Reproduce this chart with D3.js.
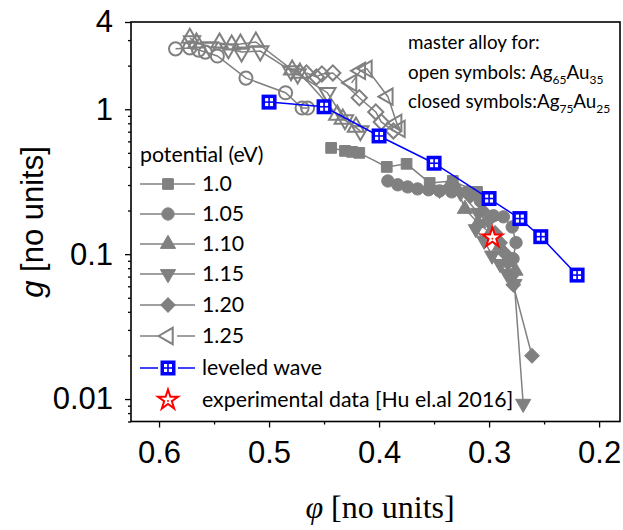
<!DOCTYPE html>
<html>
<head>
<meta charset="utf-8">
<script src="https://cdn.jsdelivr.net/npm/d3@7"></script>
<style>
  body { margin: 0; background: #fff; }
  svg { display: block; }
</style>
</head>
<body>
<div id="chart"></div>
<script>
// ---- data (phi, g) ----
// open symbols: master alloy Ag65Au35
var open105_phi = [0.585, 0.572, 0.564, 0.558, 0.547, 0.521, 0.485, 0.470, 0.465];
var open105_g   = [2.61, 2.65, 2.56, 2.48, 2.33, 1.64, 1.30, 1.02, 1.02];
var open110_phi = [0.572, 0.566, 0.545, 0.534, 0.526, 0.512, 0.479, 0.472, 0.438, 0.433, 0.421];
var open110_g   = [3.10, 2.87, 2.87, 2.78, 2.82, 2.91, 1.87, 1.78, 0.913, 0.857, 0.755];
var open115_phi = [0.570, 0.554, 0.537, 0.525, 0.508, 0.480, 0.474, 0.447, 0.431, 0.417];
var open115_g   = [2.96, 2.69, 2.61, 2.48, 2.52, 1.84, 1.75, 1.30, 0.844, 0.709];
var open120_phi = [0.466, 0.457, 0.452, 0.442, 0.418, 0.403, 0.398, 0.387];
var open120_g   = [1.78, 1.67, 1.75, 1.78, 1.20, 0.958, 0.817, 0.709];
var open125_phi = [0.425, 0.417, 0.411, 0.392, 0.384, 0.381];
var open125_g   = [1.52, 1.84, 1.90, 1.22, 0.805, 0.732];

// closed symbols: master alloy Ag75Au25
var closed100_phi = [0.4436, 0.431, 0.4245, 0.418, 0.393, 0.375, 0.354, 0.333, 0.311];
var closed100_g   = [0.541, 0.516, 0.508, 0.500, 0.400, 0.420, 0.310, 0.320, 0.269];
var closed105_phi = [0.392, 0.383, 0.374, 0.365, 0.355, 0.345, 0.334, 0.320, 0.308, 0.296, 0.287, 0.279, 0.2755, 0.2782];
var closed105_g   = [0.320, 0.301, 0.291, 0.282, 0.278, 0.273, 0.269, 0.269, 0.233, 0.184, 0.181, 0.154, 0.120, 0.093];
var closed110_phi = [0.354, 0.338, 0.328, 0.322, 0.310, 0.299, 0.290, 0.283, 0.276];
var closed110_g   = [0.291, 0.282, 0.273, 0.205, 0.164, 0.140, 0.114, 0.093, 0.0767];
var closed115_phi = [0.345, 0.326, 0.310, 0.312, 0.3045, 0.2973, 0.290, 0.2836, 0.2791, 0.277, 0.269];
var closed115_g   = [0.278, 0.265, 0.193, 0.149, 0.124, 0.098, 0.0857, 0.0731, 0.0697, 0.0624, 0.00929];
var closed120_phi = [0.317, 0.306, 0.301, 0.2945, 0.290, 0.286, 0.283, 0.280, 0.278, 0.261];
var closed120_g   = [0.252, 0.199, 0.170, 0.140, 0.120, 0.102, 0.087, 0.0708, 0.0614, 0.0199];

var wave_phi = [0.50, 0.45, 0.40, 0.35, 0.30, 0.272, 0.253, 0.22];
var wave_g   = [1.12, 1.04, 0.654, 0.424, 0.242, 0.176, 0.132, 0.0717];

var exp_phi = [0.297];
var exp_g   = [0.13];

var xTicks = [0.6, 0.5, 0.4, 0.3, 0.2];
var xMinor = [0.55, 0.45, 0.35, 0.25];
var yTicks = [0.01, 0.1, 1, 4];
var yTickLabels = ["0.01", "0.1", "1", "4"];
var yMinor = [0.007, 0.008, 0.009, 0.02, 0.03, 0.04, 0.05, 0.06, 0.07, 0.08, 0.09,
              0.2, 0.3, 0.4, 0.5, 0.6, 0.7, 0.8, 0.9, 2, 3];

var legendLabels = ["1.0", "1.05", "1.10", "1.15", "1.20", "1.25"];

// ---- layout ----
var width = 623, height = 530;
var gray = "#808080";

var svg = d3.select("#chart").append("svg")
    .attr("width", width)
    .attr("height", height);

var x = d3.scaleLinear().domain([0.6255, 0.181]).range([131, 620]);
var y = d3.scaleLog().domain([0.007, 4]).range([421.5, 22]);

function zip(a, b) { return a.map(function(v, i) { return [v, b[i]]; }); }

var series = [
  { pts: zip(open105_phi, open105_g), shape: "circle", open: true },
  { pts: zip(open110_phi, open110_g), shape: "up", open: true },
  { pts: zip(open115_phi, open115_g), shape: "down", open: true },
  { pts: zip(open120_phi, open120_g), shape: "diamond", open: true },
  { pts: zip(open125_phi, open125_g), shape: "left", open: true },
  { pts: zip(closed100_phi, closed100_g), shape: "square", open: false },
  { pts: zip(closed105_phi, closed105_g), shape: "circle", open: false },
  { pts: zip(closed110_phi, closed110_g), shape: "up", open: false },
  { pts: zip(closed115_phi, closed115_g), shape: "down", open: false },
  { pts: zip(closed120_phi, closed120_g), shape: "diamond", open: false }
];

function symbolPath(shape, open) {
  var s;
  if (shape == "circle") s = d3.symbol(d3.symbolCircle, open ? 135 : 120);
  else if (shape == "square") s = d3.symbol(d3.symbolSquare, 115);
  else if (shape == "diamond") s = d3.symbol(d3.symbolSquare, open ? 115 : 105);
  else s = d3.symbol(d3.symbolTriangle, open ? 115 : 100);
  return s();
}
function symbolRot(shape) {
  if (shape == "down") return 180;
  if (shape == "left") return -90;
  if (shape == "diamond") return 45;
  return 0;
}
function drawMarker(g, shape, open, cx, cy) {
  g.append("path")
    .attr("d", symbolPath(shape, open))
    .attr("transform", "translate(" + cx + "," + cy + ") rotate(" + symbolRot(shape) + ")")
    .attr("fill", open ? "none" : gray)
    .attr("stroke", gray)
    .attr("stroke-width", open ? 2 : 1);
}
function drawWaveMarker(g, cx, cy) {
  g.append("rect").attr("x", cx - 7.5).attr("y", cy - 7.5)
    .attr("width", 15).attr("height", 15).attr("fill", "#0000ff");
  [[-1, -1], [1, -1], [-1, 1], [1, 1]].forEach(function(o) {
    g.append("rect").attr("x", cx + o[0] * 2.4 - 1.6).attr("y", cy + o[1] * 2.4 - 1.6)
      .attr("width", 3.2).attr("height", 3.2).attr("fill", "#fff");
  });
}
function drawStar(g, cx, cy) {
  g.append("path")
    .attr("d", d3.symbol(d3.symbolStar, 125)())
    .attr("transform", "translate(" + cx + "," + cy + ")")
    .attr("fill", "#fff").attr("stroke", "#ff0000").attr("stroke-width", 2);
  g.append("circle").attr("cx", cx).attr("cy", cy + 1).attr("r", 0.9).attr("fill", "#ff0000");
}

var line = d3.line().x(function(d) { return x(d[0]); }).y(function(d) { return y(d[1]); });

var plot = svg.append("g");

series.forEach(function(s) {
  plot.append("path").datum(s.pts)
    .attr("d", line).attr("fill", "none")
    .attr("stroke", gray).attr("stroke-width", 1.5);
});
series.forEach(function(s) {
  s.pts.forEach(function(p) { drawMarker(plot, s.shape, s.open, x(p[0]), y(p[1])); });
});

var wave = zip(wave_phi, wave_g);
plot.append("path").datum(wave)
  .attr("d", line).attr("fill", "none")
  .attr("stroke", "#0000ff").attr("stroke-width", 1.5);
wave.forEach(function(p) { drawWaveMarker(plot, x(p[0]), y(p[1])); });

zip(exp_phi, exp_g).forEach(function(p) { drawStar(plot, x(p[0]), y(p[1])); });

// ---- axes ----
var tickFont = "Liberation Sans, Arial, sans-serif";

svg.append("g").attr("transform", "translate(0,421.5)")
  .call(d3.axisBottom(x).tickValues(xTicks).tickFormat(d3.format(".1f"))
    .tickSize(6).tickPadding(13).tickSizeOuter(0));
svg.append("g").attr("transform", "translate(0,421.5)")
  .call(d3.axisBottom(x).tickValues(xMinor).tickFormat("").tickSize(3).tickSizeOuter(0));

svg.append("g").attr("transform", "translate(131,0)")
  .call(d3.axisLeft(y).tickValues(yTicks)
    .tickFormat(function(d, i) { return yTickLabels[i]; })
    .tickSize(6).tickPadding(12).tickSizeOuter(0));
svg.append("g").attr("transform", "translate(131,0)")
  .call(d3.axisLeft(y).tickValues(yMinor).tickFormat("").tickSize(3).tickSizeOuter(0));

svg.selectAll(".domain").remove();
svg.selectAll(".tick line").attr("stroke", "#000").attr("stroke-width", 1.3);
svg.selectAll(".tick text").attr("font-family", tickFont).attr("font-size", 31).attr("fill", "#000");

// frame
svg.append("rect").attr("x", 131).attr("y", 22).attr("width", 489).attr("height", 399.5)
  .attr("fill", "none").attr("stroke", "#000").attr("stroke-width", 1.6);

// axis titles
svg.append("text").attr("x", 380).attr("y", 518).attr("text-anchor", "middle")
  .attr("font-family", "Liberation Serif, Times New Roman, serif").attr("font-size", 32)
  .html('<tspan font-style="italic">φ</tspan> [no units]');

svg.append("text").attr("transform", "translate(43,222) rotate(-90)").attr("text-anchor", "middle")
  .attr("font-family", tickFont).attr("font-size", 31)
  .html('<tspan font-style="italic">g</tspan> [no units]');

// ---- legend ----
var legFont = "Lato, Open Sans, sans-serif";
var leg = svg.append("g").attr("font-family", legFont).attr("font-size", 21.3);
leg.append("text").attr("x", 140).attr("y", 155).attr("dy", "0.35em").text("potential (eV)");

var legShapes = [
  { shape: "square", open: false }, { shape: "circle", open: false },
  { shape: "up", open: false }, { shape: "down", open: false },
  { shape: "diamond", open: false }, { shape: "left", open: true }
];
var legRows = [184, 214, 244, 274, 305, 336];
legShapes.forEach(function(s, i) {
  var ry = legRows[i];
  leg.append("line").attr("x1", 140).attr("x2", 195).attr("y1", ry).attr("y2", ry)
    .attr("stroke", gray).attr("stroke-width", 1.5);
  if (s.open) {
    leg.append("rect").attr("x", 159).attr("y", ry - 8).attr("width", 18).attr("height", 16).attr("fill", "#fff");
  }
  drawMarker(leg, s.shape, s.open, 168, ry);
  leg.append("text").attr("x", 202).attr("y", ry).attr("dy", "0.35em").text(legendLabels[i]);
});
leg.append("line").attr("x1", 140).attr("x2", 195).attr("y1", 368).attr("y2", 368)
  .attr("stroke", "#0000ff").attr("stroke-width", 1.5);
leg.append("rect").attr("x", 158).attr("y", 358).attr("width", 20).attr("height", 20).attr("fill", "#fff");
drawWaveMarker(leg, 168, 368);
leg.append("text").attr("x", 202).attr("y", 368).attr("dy", "0.35em").text("leveled wave");
drawStar(leg, 168, 400);
leg.append("text").attr("x", 202).attr("y", 400).attr("dy", "0.35em").text("experimental data [Hu el.al 2016]");

// ---- annotation ----
var ann = svg.append("g").attr("font-family", legFont).attr("font-size", 18.8);
ann.append("text").attr("x", 408).attr("y", 42).attr("dy", "0.35em").text("master alloy for:");
ann.append("text").attr("x", 408).attr("y", 72).attr("dy", "0.35em")
  .html('open symbols: Ag<tspan font-size="12" dy="5">65</tspan><tspan dy="-5">Au</tspan><tspan font-size="12" dy="5">35</tspan>');
ann.append("text").attr("x", 408).attr("y", 101).attr("dy", "0.35em")
  .html('closed symbols:Ag<tspan font-size="12" dy="5">75</tspan><tspan dy="-5">Au</tspan><tspan font-size="12" dy="5">25</tspan>');
</script>
</body>
</html>
